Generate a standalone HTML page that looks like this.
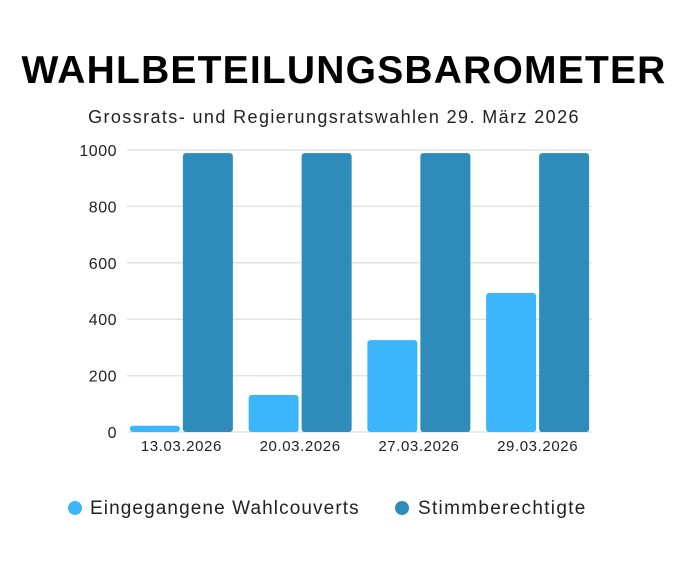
<!DOCTYPE html>
<html><head><meta charset="utf-8"><style>
body{margin:0;background:#fff;width:686px;height:575px;overflow:hidden;font-family:"Liberation Sans",sans-serif}
</style></head><body>
<svg width="686" height="575" id="c">
<text x="344" y="83" text-anchor="middle" font-size="39" font-weight="bold" fill="#000" letter-spacing="1.2">WAHLBETEILUNGSBAROMETER</text>
<text x="334" y="123" text-anchor="middle" font-size="18" fill="#222" letter-spacing="1.4">Grossrats- und Regierungsratswahlen 29. März 2026</text>
<g id="grid"></g><g id="bars"></g><g id="labels"></g>
<g>
<circle cx="75" cy="508" r="7" fill="#3bb6fd"/>
<text x="90" y="514" font-size="19" fill="#222" letter-spacing="1.1">Eingegangene Wahlcouverts</text>
<circle cx="402" cy="508" r="7" fill="#2e8bba"/>
<text x="418" y="514" font-size="19" fill="#222" letter-spacing="1.3">Stimmberechtigte</text>
</g>
</svg>
<script>
const categories=["13.03.2026","20.03.2026","27.03.2026","29.03.2026"];
const eingegangene=[22,131,326,493];
const stimmberechtigte=[989,989,989,989];
const yTicks=[0,200,400,600,800,1000];
const NS="http://www.w3.org/2000/svg";
const x0=122,x1=597,y0=432,y1=150,yMax=1000;
const y=v=>y0-(v/yMax)*(y0-y1);
const gw=(x1-x0)/categories.length;
function mk(t,a,p){const e=document.createElementNS(NS,t);for(const k in a)e.setAttribute(k,a[k]);p.appendChild(e);return e;}
const grid=document.getElementById('grid'),bars=document.getElementById('bars'),labels=document.getElementById('labels');
yTicks.forEach(v=>{
 const l=mk('line',{x1:127,x2:592,y1:y(v),y2:y(v),stroke:'#e3e3e3','stroke-width':1.5},grid);
 
 
 const t=mk('text',{x:117,y:y(v)+6,'text-anchor':'end','font-size':16,fill:'#222','letter-spacing':0.5},labels);
 t.textContent=v;
 
 
});
const bw=50,gap=3;
categories.forEach((c,i)=>{
 const gx=x0+i*gw+(gw-(2*bw+gap))/2;
 const b1=mk('rect',{x:gx,y:y(eingegangene[i]),width:bw,height:y0-y(eingegangene[i]),rx:3,fill:'#3bb6fd'},bars);
 
 
 const b2=mk('rect',{x:gx+bw+gap,y:y(stimmberechtigte[i]),width:bw,height:y0-y(stimmberechtigte[i]),rx:3,fill:'#2e8bba'},bars);
 
 
 const t=mk('text',{x:x0+i*gw+gw/2,y:451,'text-anchor':'middle','font-size':15,fill:'#222','letter-spacing':0.6},labels);
 t.textContent=c;
 
 
});
</script>
</body></html>
